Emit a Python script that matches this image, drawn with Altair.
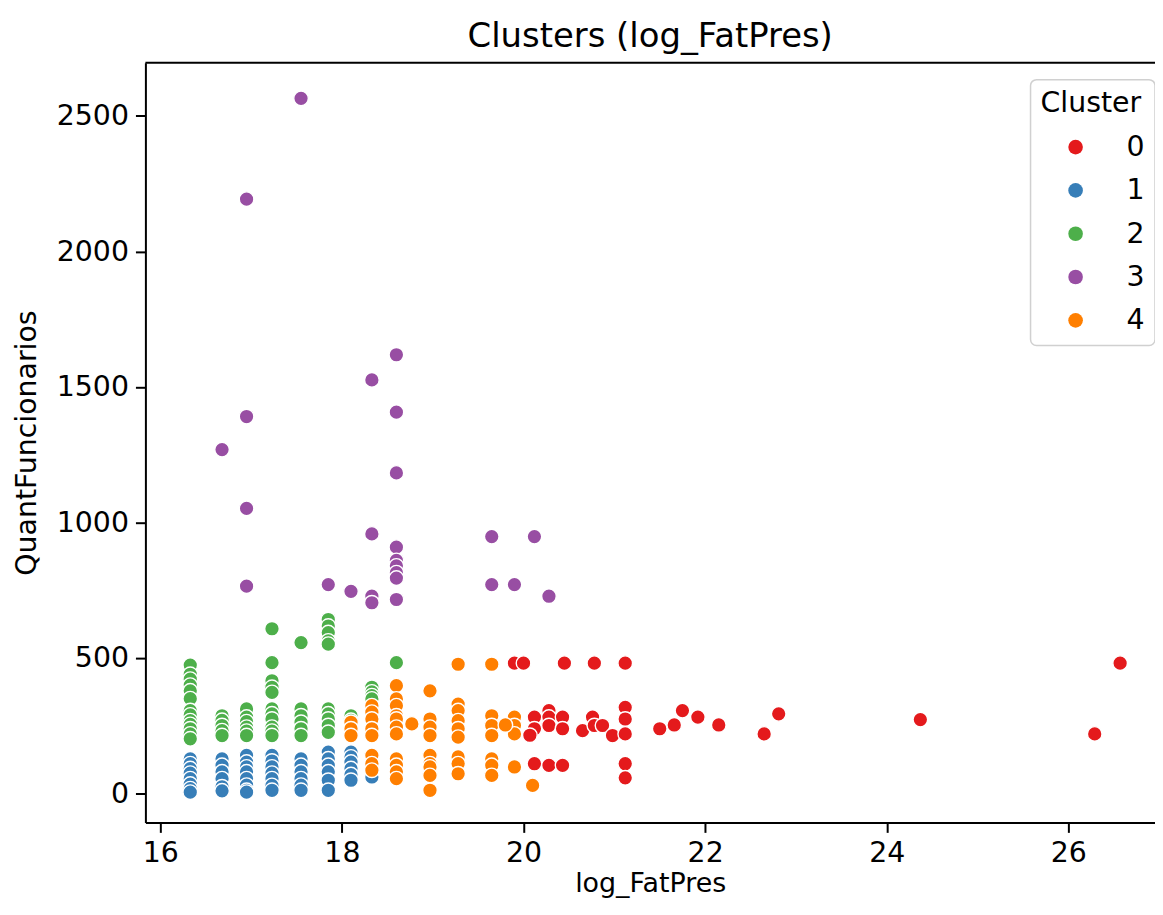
import altair as alt
import pandas as pd

# ---- data (log_FatPres, QuantFuncionarios) ----
c0_x = [19.9, 20.0, 20.45, 20.78, 21.12, 20.12, 20.12, 20.12, 20.07, 20.28, 20.28, 20.28, 20.28,
        20.43, 20.43, 20.43, 20.65, 20.76, 20.78, 20.87, 20.98, 21.12, 21.12, 21.12, 21.12, 21.12,
        21.5, 21.66, 21.75, 21.92, 22.15, 22.65, 22.81, 24.37, 26.29, 26.57]
c0_y = [481, 481, 481, 481, 481, 282, 239, 110, 215, 306, 282, 251, 104,
        282, 239, 104, 232, 282, 251, 251, 214, 318, 275, 220, 110, 58,
        239, 253, 306, 282, 253, 220, 294, 273, 220, 481]

c1_x = [16.33] * 8 + [16.68] * 6 + [16.95] * 8 + [17.23] * 7 + [17.55] * 6 + [17.85] * 6 + [18.1] * 6 + [18.33]
c1_y = [128, 110, 92, 75, 55, 35, 18, 5,
        128, 104, 80, 55, 25, 10,
        141, 116, 98, 80, 55, 31, 12, 5,
        141, 120, 98, 75, 55, 30, 12,
        128, 104, 80, 55, 31, 12,
        153, 128, 104, 80, 49, 12,
        153, 135, 116, 92, 70, 49,
        61]

c2_x = [16.33] * 13 + [16.68] * 5 + [16.95] * 6 + [17.23] * 11 + [17.55] * 6 + [17.85] * 10 + [18.1] * 2 + [18.33] * 4 + [18.6]
c2_y = [474, 440, 422, 400, 379, 350, 306, 290, 269, 255, 239, 220, 202,
        287, 270, 251, 232, 214,
        312, 282, 265, 245, 230, 214,
        608, 483, 416, 392, 373, 312, 294, 275, 245, 230, 214,
        557, 312, 287, 263, 239, 214,
        642, 618, 594, 563, 551, 312, 294, 275, 251, 226,
        287, 270,
        392, 375, 361, 349,
        483]

c3_x = [17.55, 16.95, 18.6, 18.33, 18.6, 16.95, 16.68, 18.6, 16.95, 18.33, 18.6, 18.6, 18.6, 18.6, 18.6,
        17.85, 18.1, 18.33, 18.33, 18.6, 16.95, 19.65, 20.12, 19.65, 19.9, 20.28]
c3_y = [2565, 2193, 1619, 1526, 1407, 1391, 1269, 1183, 1052, 958, 909, 860, 840, 815, 795,
        771, 746, 728, 704, 716, 765, 948, 948, 771, 771, 728]

c4_x = [18.1] * 3 + [18.33] * 8 + [18.6] * 11 + [18.77] + [18.97] * 9 + [19.28] * 9 + [19.65] * 7 + [19.9] * 4 + [19.8, 20.1]
c4_y = [263, 239, 214,
        324, 300, 275, 239, 214, 141, 110, 86,
        398, 349, 324, 287, 275, 245, 220, 128, 104, 80, 55,
        257,
        379, 275, 245, 214, 141, 110, 98, 67, 12,
        477, 330, 306, 269, 239, 208, 135, 110, 73,
        477, 287, 251, 214, 128, 104, 67,
        282, 251, 220, 98,
        253, 30]

clusters = ["0", "1", "2", "3", "4"]
colors = ["#e41a1c", "#377eb8", "#4daf4a", "#984ea3", "#ff7f00"]
x_ticks = [16, 18, 20, 22, 24, 26]
y_ticks = [0, 500, 1000, 1500, 2000, 2500]

rows = []
for name, xs, ys in [("0", c0_x, c0_y), ("1", c1_x, c1_y), ("2", c2_x, c2_y),
                     ("3", c3_x, c3_y), ("4", c4_x, c4_y)]:
    for x, y in zip(xs, ys):
        rows.append({"log_FatPres": x, "QuantFuncionarios": y, "Cluster": name})
df = pd.DataFrame(rows)

W, H = 1014, 763
FONT = "DejaVu Sans"
FS = 28.5

points = alt.Chart(df).mark_circle(size=215, opacity=1, stroke="white", strokeWidth=1.4).encode(
    x=alt.X("log_FatPres:Q",
            scale=alt.Scale(domain=[15.836, 26.954], nice=False, zero=False),
            axis=alt.Axis(values=x_ticks, format="d", title="log_FatPres")),
    y=alt.Y("QuantFuncionarios:Q",
            scale=alt.Scale(domain=[-106.5, 2696.5], nice=False, zero=False),
            axis=alt.Axis(values=y_ticks, format="d", title="QuantFuncionarios")),
    color=alt.Color("Cluster:N", scale=alt.Scale(domain=clusters, range=colors),
                    legend=alt.Legend(title="Cluster")),
)

top_spine = alt.Chart(pd.DataFrame({"a": [0]})).mark_rule(color="black", strokeWidth=2).encode(
    x=alt.value(0), x2=alt.value(W), y=alt.value(0)
)

chart = alt.layer(points, top_spine).properties(
    width=W, height=H,
    autosize=alt.AutoSizeParams(type="none"),
    padding={"left": 138, "top": 53, "right": 0, "bottom": 78},
    title=alt.TitleParams("Clusters (log_FatPres)", fontSize=34, font=FONT,
                          fontWeight="normal", color="black", anchor="middle", offset=8),
).configure_view(stroke=None).configure_axis(
    labelFont=FONT, titleFont=FONT, labelFontSize=FS, titleFontSize=FS,
    titleFontWeight="normal", labelColor="black", titleColor="black",
    domainColor="black", domainWidth=2, tickColor="black", tickWidth=2,
    tickSize=10, grid=False, labelPadding=7,
).configure_axisX(titlePadding=4, titleFontSize=27, labelPadding=6).configure_axisY(
    titlePadding=15
).configure_legend(
    orient="none", legendX=889, legendY=17, strokeColor="#d0d0d0", strokeWidth=1.5,
    fillColor="white", cornerRadius=6, padding=10, titleFont=FONT, labelFont=FONT,
    titleFontSize=FS, labelFontSize=FS, titleFontWeight="normal", titleColor="black",
    labelColor="black", symbolSize=215, symbolStrokeWidth=0, rowPadding=14.5,
    titlePadding=15, labelOffset=37, symbolOffset=21,
)

chart.save("out.html", embed_options={"renderer": "svg", "actions": False})
